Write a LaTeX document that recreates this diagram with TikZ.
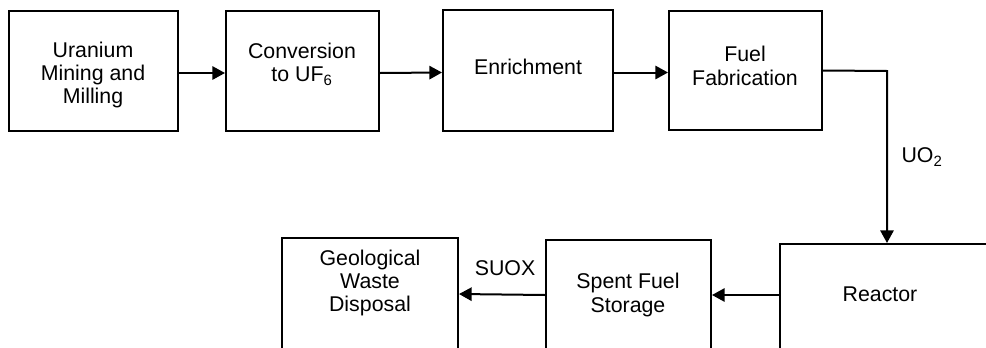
\documentclass[tikz,border=0pt]{standalone}
\usepackage{fontspec}
\setmainfont{Liberation Sans}
\usetikzlibrary{arrows.meta,fit}
\begin{document}
\begin{tikzpicture}[x=0.75pt,y=-0.75pt,
  box/.style={draw=black,line width=1.5pt,inner sep=0pt,fill=white},
  lbl/.style={align=center,inner sep=0pt,font=\fontsize{16}{17.6}\selectfont},
  arr/.style={draw=black,line width=1.5pt,-{Triangle[length=9.5pt,width=10pt]}}]
\useasboundingbox (0,0) rectangle (986,347);
\clip (0,0) rectangle (986,347);
% process boxes, top row
\node[box,fit={(9,11) (178,131)}] (mining) {};
\node[box,fit={(226,11) (379,131)}] (conv) {};
\node[box,fit={(443,10) (613,131)}] (enrich) {};
\node[box,fit={(669,11) (822,130)}] (fab) {};
% process boxes, bottom row (run past the page edge)
\node[box,fit={(282,238) (458,350)}] (geo) {};
\node[box,fit={(546,240) (711,350)}] (spent) {};
\node[box,fit={(780,244) (1000,370)}] (reactor) {};
% box texts
\node[lbl] (tmining) at (93,75) {Uranium\\Mining and\\Milling};
\node[lbl] (tconv) at (302,64) {Conversion\\to UF\textsubscript{6}};
\node[lbl] (tenrich) at (528,67) {Enrichment};
\node[lbl] (tfab) at (745,66) {Fuel\\Fabrication};
\node[lbl] (tgeo) at (370,283) {Geological\\Waste\\Disposal};
\node[lbl] (tspent) at (628,295) {Spent Fuel\\Storage};
\node[lbl] (treactor) at (880,294) {Reactor};
% flow
\draw[arr] ([yshift=-1.5pt]mining.east) -- ([yshift=-1.5pt]conv.west);
\draw[arr] ([yshift=-1.5pt]conv.east) -- ([yshift=-1.5pt]enrich.west);
\draw[arr] ([yshift=-1.5pt]enrich.east) -- ([yshift=-1.5pt]fab.west);
\coordinate (turn) at (887,71);
\draw[arr] (fab.east) -- (turn) -- (turn |- reactor.north);
\draw[arr] (reactor.west |- spent.center) -- (spent.east);
\draw[arr] (spent.west) -- (geo.east);
% stream labels
\node[lbl] (uo2) at (922,157) {UO\textsubscript{2}};
\node[lbl] (suox) at (505,268) {SUOX};
\end{tikzpicture}
\end{document}
